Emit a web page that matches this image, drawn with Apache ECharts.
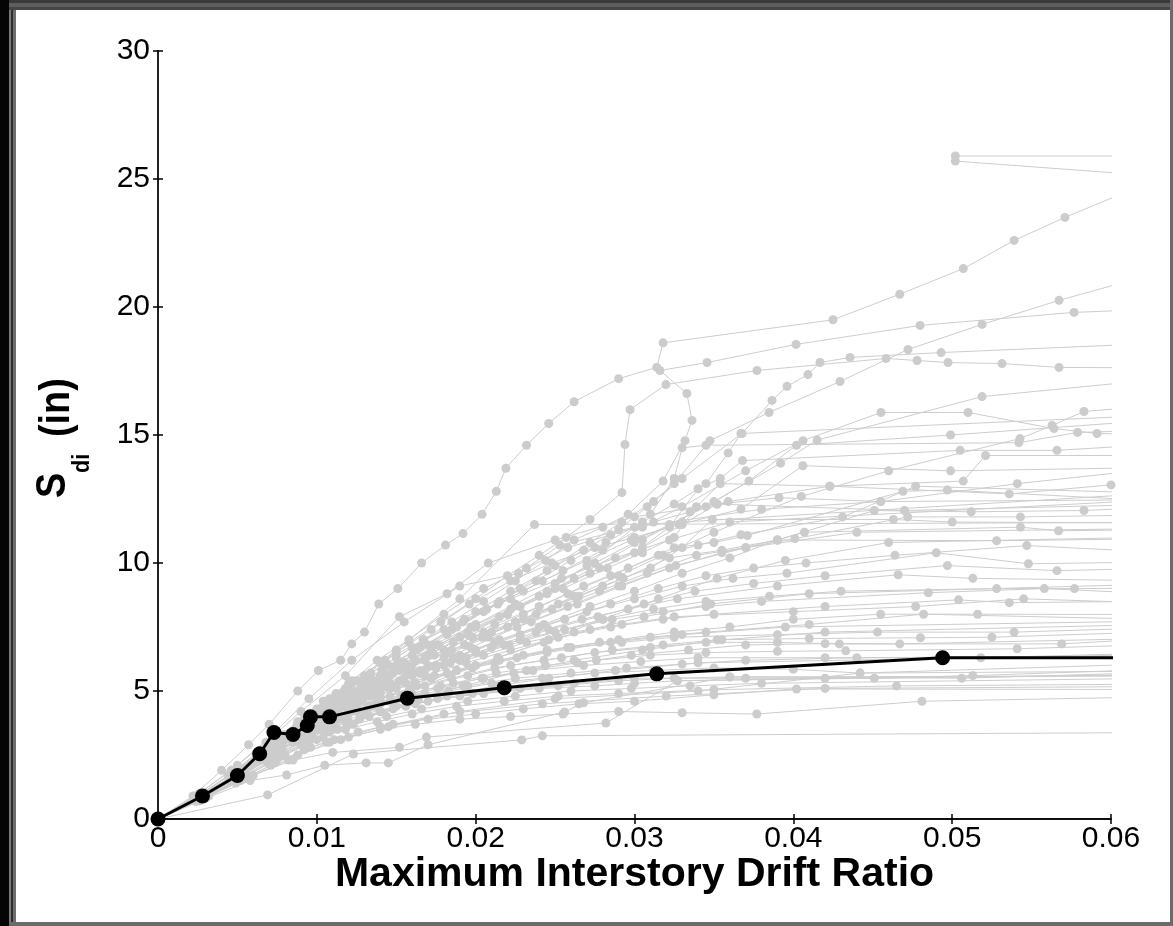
<!DOCTYPE html>
<html><head><meta charset="utf-8">
<script src="https://cdn.jsdelivr.net/npm/echarts/dist/echarts.min.js"></script>
<style>html,body{margin:0;padding:0;background:#fff}#c{width:1173px;height:926px}</style>
</head><body><div id="c"></div>
<script>
// ---- data: [drift ratio, Sdi (in)] ----
const xTickLabels = ['0','0.01','0.02','0.03','0.04','0.05','0.06'];
const yTickLabels = ['0','5','10','15','20','25','30'];

const medianCurve = [[0,0],[0.0028,0.9],[0.0050,1.7],[0.0064,2.55],[0.0073,3.38],[0.0085,3.3],[0.0094,3.65],[0.0096,3.99],[0.0108,3.99],[0.0157,4.72],[0.0218,5.13],[0.0314,5.67],[0.0494,6.3],[0.08,6.3]];

const g01 = [[0,0],[0.0022,0.9],[0.0040,1.9],[0.0057,2.9],[0.0070,3.7],[0.0088,5.0],[0.0101,5.8],[0.0115,6.2],[0.0122,6.84],[0.0130,7.3],[0.0139,8.4],[0.0151,9.0],[0.0166,10.0],[0.0181,10.7],[0.0192,11.15],[0.0204,11.9],[0.0213,12.8],[0.0219,13.7],[0.0232,14.6],[0.0246,15.45],[0.0262,16.3],[0.0290,17.2],[0.0314,17.64],[0.0318,18.6],[0.0425,19.5],[0.0467,20.5],[0.0507,21.5],[0.0539,22.6],[0.0571,23.5],[0.0606,24.4]];
const g02 = [[0,0],[0.0030,1.0],[0.0055,2.0],[0.0078,3.2],[0.0100,4.3],[0.0112,4.9],[0.0125,5.4],[0.0142,6.0],[0.0160,6.7],[0.0180,7.4],[0.0200,8.1],[0.0222,8.9],[0.0245,9.7],[0.0268,10.5],[0.0290,11.3],[0.0308,12.2],[0.0325,13.1],[0.03475,14.78],[0.03847,15.88],[0.04294,17.09],[0.04722,18.34],[0.05188,19.32],[0.05673,20.26],[0.068,22.2],[0.085,24.1],[0.0502,25.7],[0.0502,25.9],[0.08,25.9]];
const g03 = [[0,0],[0.0027,0.9],[0.0050,1.8],[0.0072,2.9],[0.0092,3.9],[0.0105,4.5],[0.0118,5.1],[0.0134,5.7],[0.0150,6.3],[0.0167,7.0],[0.0185,7.7],[0.0205,8.5],[0.0225,9.3],[0.0244,10.1],[0.0262,10.9],[0.0280,11.4],[0.0296,11.9],[0.0318,13.2],[0.03318,14.78],[0.03362,15.57],[0.0333,16.62],[0.0316,17.52],[0.03457,17.83],[0.04017,18.54],[0.04798,19.28],[0.05767,19.79],[0.075,20.2]];
const g04 = [[0,0],[0.0025,0.8],[0.0048,1.7],[0.0070,2.8],[0.0090,3.7],[0.0105,4.3],[0.0120,4.9],[0.0140,5.6],[0.0160,6.4],[0.0182,7.2],[0.0205,8.1],[0.0228,9.0],[0.0250,9.9],[0.0272,10.8],[0.0292,11.6],[0.0312,12.4],[0.0330,13.3],[0.03677,15.06],[0.03866,16.35],[0.0396,16.9],[0.04092,17.36],[0.04168,17.83],[0.04357,18.03],[0.0493,18.22],[0.075,18.9]];
const g05 = [[0,0],[0.0030,1.0],[0.0053,1.9],[0.0074,3.0],[0.0095,4.1],[0.0108,4.7],[0.0122,5.3],[0.0140,6.1],[0.0158,6.9],[0.0178,7.7],[0.0200,8.6],[0.0220,9.5],[0.0240,10.3],[0.0257,11.0],[0.0272,11.7],[0.02921,12.75],[0.0294,14.63],[0.02972,15.99],[0.03198,16.97],[0.03771,17.52],[0.04584,17.99],[0.04779,17.91],[0.04974,17.83],[0.05314,17.79],[0.05673,17.64],[0.07,17.6]];
const g06 = [[0,0],[0.0026,0.8],[0.0049,1.6],[0.0071,2.6],[0.0094,3.6],[0.0108,4.2],[0.0125,4.8],[0.0146,5.6],[0.0168,6.3],[0.0190,7.1],[0.0215,7.9],[0.0240,8.7],[0.0262,9.4],[0.0305,10.9],[0.0350,12.4],[0.0392,13.9],[0.0415,14.8],[0.05188,16.5],[0.07,17.6]];
const g07 = [[0,0],[0.0028,0.9],[0.0052,1.8],[0.0076,2.9],[0.0100,3.9],[0.0117,4.5],[0.0135,5.0],[0.0157,5.7],[0.0180,6.3],[0.0204,7.1],[0.0230,7.8],[0.0262,8.7],[0.0290,9.5],[0.0318,10.3],[0.0350,11.2],[0.0405,12.6],[0.0460,13.6],[0.05427,14.86],[0.05629,15.37],[0.0583,15.92],[0.07,16.5]];
const g08 = [[0,0],[0.0024,0.8],[0.0046,1.6],[0.0068,2.6],[0.0088,3.6],[0.0100,4.1],[0.0112,4.7],[0.0128,5.3],[0.0145,6.0],[0.0165,6.7],[0.0185,7.4],[0.0207,8.2],[0.0230,8.9],[0.0255,9.7],[0.0280,10.5],[0.0305,11.4],[0.0330,12.2],[0.0370,13.6],[0.04061,14.78],[0.04552,15.88],[0.0510,15.88],[0.05641,15.25],[0.05912,15.06],[0.07,14.9]];
const g09 = [[0,0],[0.0029,0.9],[0.0054,1.9],[0.0078,3.0],[0.0102,4.1],[0.0116,4.7],[0.0130,5.3],[0.0150,6.0],[0.0170,6.8],[0.0192,7.7],[0.0215,8.5],[0.0238,9.3],[0.0260,10.1],[0.0282,10.8],[0.0305,11.6],[0.0325,12.3],[0.0345,13.1],[0.0359,14.3],[0.0367,15.06],[0.075,16.1]];
const g10 = [[0,0],[0.0025,0.8],[0.0047,1.7],[0.0069,2.7],[0.0091,3.7],[0.0104,4.2],[0.0118,4.8],[0.0136,5.4],[0.0155,6.1],[0.0177,6.8],[0.0200,7.6],[0.0225,8.4],[0.0250,9.2],[0.0275,10.0],[0.0300,10.8],[0.0322,11.5],[0.0345,12.2],[0.0372,13.2],[0.0402,14.6],[0.0499,15.0],[0.07,15.9]];
const g11 = [[0,0],[0.0027,0.9],[0.0050,1.8],[0.0073,2.8],[0.0097,3.8],[0.0112,4.4],[0.0128,5.0],[0.0148,5.7],[0.0170,6.4],[0.0195,7.2],[0.0220,8.0],[0.0245,8.9],[0.0270,9.9],[0.0310,11.9],[0.0325,13.3],[0.0330,14.5],[0.0345,14.6],[0.0542,14.7],[0.0579,15.1],[0.07,15.3]];
const g12 = [[0,0],[0.0023,0.7],[0.0045,1.5],[0.0066,2.5],[0.0087,3.5],[0.0100,4.0],[0.0113,4.6],[0.0130,5.2],[0.0150,5.9],[0.0172,6.6],[0.0195,7.3],[0.0220,8.0],[0.0245,8.8],[0.0272,9.6],[0.0300,10.4],[0.0322,11.4],[0.0340,12.9],[0.0354,13.3],[0.0368,14.0],[0.0505,14.4],[0.0566,14.4],[0.07,14.9]];
const g13 = [[0,0],[0.0026,0.8],[0.0049,1.7],[0.0071,2.7],[0.0093,3.8],[0.0106,4.5],[0.0120,5.3],[0.0138,6.2],[0.0158,7.0],[0.0180,8.0],[0.0205,9.0],[0.0232,9.8],[0.0258,10.6],[0.0285,11.1],[0.0312,11.6],[0.0335,12.0],[0.0359,12.4],[0.0423,13.0],[0.0507,13.2],[0.0521,14.2],[0.07,14.2]];
const g14 = [[0,0],[0.0028,0.9],[0.0051,1.8],[0.0075,2.9],[0.0099,4.0],[0.0114,4.8],[0.0130,5.6],[0.0150,6.5],[0.0172,7.4],[0.0196,8.4],[0.0222,9.3],[0.0248,10.0],[0.0275,10.6],[0.0300,11.0],[0.0328,11.5],[0.0367,12.1],[0.0406,13.8],[0.0499,13.6],[0.07,13.8]];
const g15 = [[0,0],[0.0024,0.8],[0.0047,1.7],[0.0069,2.7],[0.0090,3.7],[0.0103,4.2],[0.0116,4.8],[0.0133,5.4],[0.0152,6.1],[0.0173,6.8],[0.0197,7.5],[0.0222,8.2],[0.0250,9.0],[0.0278,9.8],[0.0305,10.6],[0.0330,11.5],[0.0352,12.3],[0.0391,12.55],[0.0455,12.4],[0.0541,13.1],[0.0601,13.5],[0.07,13.7]];
const g16 = [[0,0],[0.0029,1.0],[0.0053,1.9],[0.0076,3.0],[0.0101,4.2],[0.0117,4.8],[0.0134,5.4],[0.0155,6.1],[0.0176,6.8],[0.0200,7.5],[0.0228,8.3],[0.0255,9.0],[0.0283,9.8],[0.0305,10.4],[0.0325,11.0],[0.0339,12.2],[0.0354,13.1],[0.0423,13.0],[0.0536,12.7],[0.0600,13.05],[0.07,13.3]];
const g17 = [[0,0],[0.0025,0.8],[0.0048,1.6],[0.0070,2.6],[0.0092,3.6],[0.0105,4.1],[0.0119,4.6],[0.0137,5.2],[0.0157,5.9],[0.0180,6.6],[0.0205,7.3],[0.0230,8.0],[0.0258,8.8],[0.0285,9.5],[0.0315,10.3],[0.0340,10.7],[0.0367,11.1],[0.0431,11.8],[0.0477,13.0],[0.07,12.6]];
const g18 = [[0,0],[0.0027,0.9],[0.0050,1.8],[0.0072,2.8],[0.0095,3.8],[0.0108,4.3],[0.0123,4.9],[0.0142,5.5],[0.0162,6.2],[0.0186,6.9],[0.0212,7.6],[0.0240,8.3],[0.0268,9.1],[0.0296,9.8],[0.0325,10.6],[0.0350,10.8],[0.0371,11.07],[0.0469,12.8],[0.0497,12.85],[0.07,12.2]];
const g19 = [[0,0],[0.0026,0.8],[0.0049,1.7],[0.0071,2.7],[0.0093,3.7],[0.0107,4.2],[0.0121,4.8],[0.0140,5.4],[0.0160,6.0],[0.0185,6.6],[0.0210,7.3],[0.0238,8.0],[0.0265,8.7],[0.0293,9.4],[0.0322,10.2],[0.0355,10.5],[0.0390,10.9],[0.0451,12.05],[0.0512,12.0],[0.0583,12.05],[0.0601,12.1],[0.07,12.15]];
const g20 = [[0,0],[0.0028,0.9],[0.0052,1.8],[0.0075,2.9],[0.0098,3.9],[0.0112,4.4],[0.0127,5.0],[0.0146,5.6],[0.0168,6.2],[0.0193,6.8],[0.0220,7.5],[0.0248,8.2],[0.0278,8.9],[0.0308,9.6],[0.0339,10.3],[0.0370,10.6],[0.0401,10.95],[0.0472,11.8],[0.0543,11.8],[0.07,11.95]];
const g21 = [[0,0],[0.0024,0.8],[0.0046,1.6],[0.0068,2.6],[0.0089,3.5],[0.0101,4.0],[0.0115,4.6],[0.0132,5.2],[0.0152,5.8],[0.0174,6.4],[0.0198,7.1],[0.0225,7.7],[0.0252,8.4],[0.0280,9.1],[0.0310,9.8],[0.0330,10.6],[0.0349,11.7],[0.0463,11.7],[0.0500,11.6],[0.07,11.55]];
const g22 = [[0,0],[0.0027,0.9],[0.0051,1.8],[0.0074,2.8],[0.0096,3.7],[0.0110,4.2],[0.0125,4.7],[0.0144,5.2],[0.0165,5.8],[0.0190,6.4],[0.0215,7.0],[0.0243,7.6],[0.0272,8.3],[0.0300,8.9],[0.0330,9.6],[0.0360,10.2],[0.0390,10.9],[0.0407,11.2],[0.0543,11.4],[0.0567,11.26],[0.07,11.35]];
const g23 = [[0,0],[0.0025,0.8],[0.0047,1.7],[0.0069,2.7],[0.0091,3.7],[0.0104,4.2],[0.0118,4.7],[0.0137,5.3],[0.0158,5.9],[0.0182,6.5],[0.0208,7.1],[0.0235,7.7],[0.0264,8.4],[0.0292,9.1],[0.0322,9.8],[0.0355,10.4],[0.0390,10.9],[0.0528,10.87],[0.07,11.0]];
const g24 = [[0,0],[0.0029,1.0],[0.0054,1.9],[0.0078,2.9],[0.0102,3.9],[0.0117,4.4],[0.0133,4.9],[0.0153,5.4],[0.0175,6.0],[0.0200,6.6],[0.0228,7.2],[0.0256,7.8],[0.0285,8.4],[0.0315,9.0],[0.0345,9.5],[0.0375,9.8],[0.0408,10.0],[0.0464,10.3],[0.0547,10.68],[0.07,10.2]];
const g25 = [[0,0],[0.0026,0.8],[0.0049,1.7],[0.0071,2.7],[0.0093,3.6],[0.0106,4.1],[0.0121,4.6],[0.0140,5.1],[0.0161,5.7],[0.0186,6.3],[0.0212,6.9],[0.0240,7.5],[0.0270,8.1],[0.0300,8.6],[0.0330,9.1],[0.0362,9.4],[0.0396,9.6],[0.0490,10.4],[0.0548,9.97],[0.07,10.1]];
const g26 = [[0,0],[0.0027,0.9],[0.0050,1.8],[0.0073,2.8],[0.0095,3.7],[0.0109,4.2],[0.0124,4.7],[0.0144,5.2],[0.0165,5.7],[0.0190,6.2],[0.0218,6.8],[0.0246,7.4],[0.0277,7.9],[0.0306,8.4],[0.0338,8.9],[0.0375,9.2],[0.0420,9.5],[0.0497,9.9],[0.0566,9.7],[0.07,9.9]];
const g27 = [[0,0],[0.0025,0.8],[0.0048,1.6],[0.0070,2.6],[0.0092,3.5],[0.0105,4.0],[0.0120,4.5],[0.0139,5.0],[0.0160,5.6],[0.0184,6.1],[0.0210,6.7],[0.0238,7.3],[0.0267,7.8],[0.0296,8.2],[0.0327,8.6],[0.0390,9.1],[0.0466,9.54],[0.0513,9.4],[0.07,9.25]];
const g28 = [[0,0],[0.0028,0.9],[0.0052,1.8],[0.0075,2.8],[0.0097,3.8],[0.0111,4.3],[0.0126,4.8],[0.0146,5.3],[0.0168,5.8],[0.0194,6.3],[0.0221,6.8],[0.0250,7.3],[0.0280,7.8],[0.0312,8.2],[0.0345,8.5],[0.0385,8.7],[0.0430,8.9],[0.0528,9.0],[0.0577,9.0],[0.07,9.05]];
const g29 = [[0,0],[0.0024,0.7],[0.0046,1.5],[0.0067,2.5],[0.0088,3.4],[0.0100,3.9],[0.0114,4.4],[0.0132,4.9],[0.0152,5.4],[0.0175,5.9],[0.0200,6.5],[0.0228,7.0],[0.0256,7.4],[0.0286,7.8],[0.0318,8.1],[0.0345,8.3],[0.0380,8.5],[0.0485,8.84],[0.0558,9.0],[0.07,8.6]];
const g30 = [[0,0],[0.0027,0.9],[0.0051,1.8],[0.0074,2.7],[0.0096,3.6],[0.0110,4.1],[0.0126,4.6],[0.0146,5.1],[0.0168,5.6],[0.0194,6.1],[0.0222,6.6],[0.0252,7.1],[0.0285,7.5],[0.0318,7.8],[0.0350,8.0],[0.0420,8.3],[0.0504,8.56],[0.0536,8.45],[0.07,8.55]];
const g31 = [[0,0],[0.0025,0.8],[0.0047,1.6],[0.0069,2.6],[0.0090,3.5],[0.0103,4.0],[0.0117,4.5],[0.0135,5.0],[0.0155,5.5],[0.0180,6.0],[0.0205,6.4],[0.0232,6.9],[0.0262,7.3],[0.0292,7.6],[0.0325,7.9],[0.0400,8.1],[0.0477,8.3],[0.0545,8.6],[0.07,8.3]];
const g32 = [[0,0],[0.0028,0.9],[0.0053,1.8],[0.0076,2.8],[0.0099,3.7],[0.0113,4.2],[0.0129,4.6],[0.0150,5.1],[0.0172,5.5],[0.0198,5.9],[0.0226,6.3],[0.0258,6.7],[0.0290,7.0],[0.0325,7.3],[0.0360,7.5],[0.0400,7.8],[0.0455,8.0],[0.0516,8.0],[0.07,7.98]];
const g33 = [[0,0],[0.0026,0.8],[0.0049,1.7],[0.0071,2.6],[0.0093,3.5],[0.0106,4.0],[0.0121,4.4],[0.0140,4.9],[0.0162,5.3],[0.0188,5.8],[0.0215,6.2],[0.0245,6.6],[0.0278,6.9],[0.0310,7.1],[0.0345,7.3],[0.0410,7.6],[0.0482,8.0],[0.07,7.7]];
const g34 = [[0,0],[0.0024,0.8],[0.0045,1.6],[0.0066,2.5],[0.0086,3.4],[0.0098,3.9],[0.0112,4.3],[0.0130,4.8],[0.0150,5.2],[0.0174,5.6],[0.0200,6.0],[0.0230,6.4],[0.0260,6.7],[0.0292,6.9],[0.0325,7.1],[0.0390,7.2],[0.0453,7.3],[0.0539,7.3],[0.07,7.6]];
const g35 = [[0,0],[0.0027,0.9],[0.0051,1.7],[0.0074,2.6],[0.0096,3.5],[0.0110,4.0],[0.0125,4.4],[0.0146,4.8],[0.0168,5.2],[0.0195,5.6],[0.0222,6.0],[0.0254,6.3],[0.0286,6.6],[0.0318,6.8],[0.0352,7.0],[0.0410,7.05],[0.0480,7.08],[0.0525,7.1],[0.07,7.45]];
const g36 = [[0,0],[0.0025,0.8],[0.0048,1.6],[0.0070,2.5],[0.0091,3.4],[0.0104,3.9],[0.0119,4.3],[0.0138,4.7],[0.0159,5.1],[0.0185,5.5],[0.0212,5.9],[0.0243,6.2],[0.0275,6.5],[0.0310,6.7],[0.0345,6.9],[0.0390,6.9],[0.0429,6.84],[0.0569,6.84],[0.07,7.3]];
const g37 = [[0,0],[0.0029,0.9],[0.0054,1.8],[0.0078,2.7],[0.0101,3.5],[0.0116,3.9],[0.0132,4.3],[0.0153,4.7],[0.0176,5.1],[0.0204,5.5],[0.0232,5.8],[0.0264,6.1],[0.0298,6.4],[0.0334,6.6],[0.0370,6.8],[0.0420,6.85],[0.0467,6.84],[0.07,7.15]];
const g38 = [[0,0],[0.0026,0.8],[0.0049,1.6],[0.0071,2.5],[0.0092,3.3],[0.0105,3.7],[0.0120,4.1],[0.0140,4.5],[0.0160,4.9],[0.0186,5.3],[0.0213,5.7],[0.0244,6.0],[0.0276,6.2],[0.0310,6.4],[0.0345,6.5],[0.0390,6.55],[0.0433,6.57],[0.0541,6.65],[0.07,6.95]];
const g39 = [[0,0],[0.0024,0.7],[0.0046,1.5],[0.0067,2.4],[0.0087,3.2],[0.0100,3.6],[0.0114,4.0],[0.0133,4.4],[0.0153,4.8],[0.0178,5.2],[0.0205,5.5],[0.0236,5.8],[0.0268,6.0],[0.0304,6.15],[0.0340,6.3],[0.0420,6.3],[0.0518,6.3],[0.07,6.6]];
const g40 = [[0,0],[0.0027,0.9],[0.0051,1.7],[0.0074,2.6],[0.0096,3.4],[0.0110,3.8],[0.0125,4.2],[0.0146,4.6],[0.0168,4.9],[0.0195,5.2],[0.0225,5.5],[0.0260,5.7],[0.0295,5.9],[0.0330,6.05],[0.0370,6.2],[0.0440,6.3],[0.07,6.4]];
const g41 = [[0,0],[0.0025,0.8],[0.0047,1.6],[0.0069,2.4],[0.0090,3.2],[0.0103,3.6],[0.0117,4.0],[0.0136,4.4],[0.0157,4.7],[0.0183,5.0],[0.0210,5.3],[0.0242,5.5],[0.0275,5.7],[0.0312,5.8],[0.0350,5.9],[0.0400,5.85],[0.0442,5.7],[0.07,6.2]];
const g42 = [[0,0],[0.0028,0.9],[0.0052,1.7],[0.0075,2.5],[0.0097,3.2],[0.0111,3.6],[0.0127,3.9],[0.0148,4.3],[0.0170,4.6],[0.0198,4.9],[0.0228,5.1],[0.0262,5.3],[0.0300,5.5],[0.0370,5.5],[0.0451,5.5],[0.0513,5.6],[0.07,6.0]];
const g43 = [[0,0],[0.0026,0.8],[0.0049,1.6],[0.0071,2.4],[0.0092,3.1],[0.0106,3.5],[0.0120,3.8],[0.0140,4.2],[0.0162,4.5],[0.0190,4.8],[0.0218,5.0],[0.0252,5.2],[0.0290,5.4],[0.0325,5.5],[0.0360,5.55],[0.0506,5.5],[0.07,5.85]];
const g44 = [[0,0],[0.0024,0.7],[0.0045,1.5],[0.0065,2.3],[0.0085,3.0],[0.0097,3.4],[0.0111,3.7],[0.0130,4.1],[0.0150,4.4],[0.0176,4.7],[0.0205,4.9],[0.0240,5.1],[0.0275,5.2],[0.0300,5.3],[0.0327,5.4],[0.0420,5.5],[0.07,5.65]];
const g45 = [[0,0],[0.0027,0.8],[0.0050,1.6],[0.0072,2.4],[0.0094,3.0],[0.0108,3.4],[0.0123,3.7],[0.0144,4.0],[0.0166,4.3],[0.0195,4.6],[0.0225,4.8],[0.0260,5.0],[0.0298,5.1],[0.0335,5.2],[0.0380,5.3],[0.07,5.55]];
const g46 = [[0,0],[0.0025,0.8],[0.0048,1.5],[0.0069,2.2],[0.0090,2.9],[0.0104,3.2],[0.0118,3.5],[0.0138,3.8],[0.0160,4.1],[0.0188,4.4],[0.0218,4.6],[0.0252,4.8],[0.0290,4.9],[0.0350,5.05],[0.0465,5.2],[0.07,5.3]];
const g47 = [[0,0],[0.0028,0.8],[0.0052,1.5],[0.0074,2.2],[0.0096,2.8],[0.0111,3.1],[0.0126,3.4],[0.0148,3.7],[0.0170,3.9],[0.0200,4.1],[0.0230,4.3],[0.0265,4.5],[0.0300,4.6],[0.0350,4.85],[0.0402,5.08],[0.07,5.05]];
const g48 = [[0,0],[0.0026,0.7],[0.0049,1.4],[0.0071,2.1],[0.0092,2.7],[0.0106,3.0],[0.0120,3.2],[0.0140,3.5],[0.0162,3.7],[0.0190,3.9],[0.0222,4.0],[0.0255,4.1],[0.0290,4.2],[0.0330,4.15],[0.0377,4.1],[0.0481,4.6],[0.07,4.85]];
const g49 = [[0,0],[0.0069,0.94],[0.0123,2.54],[0.0229,3.09],[0.0242,3.25],[0.07,3.4]];
const g50 = [[0,0],[0.0030,0.8],[0.0058,1.5],[0.0081,1.72],[0.0105,2.1],[0.0131,2.19],[0.0145,2.19],[0.0170,2.9],[0.0256,4.18],[0.0268,4.54],[0.0360,5.55],[0.07,5.6]];
const g51 = [[0,0],[0.0030,0.9],[0.0055,1.6],[0.0085,2.3],[0.0110,2.6],[0.0152,2.8],[0.0169,3.2],[0.0282,3.75],[0.0327,5.4],[0.07,5.7]];
const g52 = [[0,0],[0.0030,1.0],[0.0058,2.1],[0.0085,3.4],[0.0115,4.9],[0.0150,6.6],[0.0190,8.6],[0.0237,11.5],[0.07,11.6]];
const g53 = [[0,0],[0.0026,1.0],[0.0050,2.1],[0.0072,3.3],[0.0095,4.7],[0.0122,6.2],[0.0155,7.7],[0.0190,9.1],[0.0227,9.6],[0.0253,10.7],[0.0300,11.4],[0.0380,12.1],[0.0455,12.4],[0.07,12.5]];
const g54 = [[0,0],[0.0024,0.9],[0.0046,1.9],[0.0068,3.0],[0.0090,4.2],[0.0118,5.6],[0.0152,7.9],[0.0182,8.8],[0.0208,10.0],[0.0250,10.9],[0.0300,11.8],[0.0352,12.3],[0.0470,12.05],[0.07,12.4]];
const g55 = [[0,0],[0.0032,0.9],[0.0060,1.7],[0.0088,2.5],[0.0115,3.1],[0.0145,3.6],[0.0190,4.2],[0.0250,4.7],[0.0340,5.0],[0.0442,5.7],[0.07,5.8]];
const g56 = [[0,0],[0.0029,0.8],[0.0056,1.6],[0.0082,2.3],[0.0108,3.0],[0.0140,3.6],[0.0180,4.1],[0.0242,4.5],[0.0320,4.8],[0.0420,5.1],[0.07,5.2]];
const g57 = [[0,0],[0.0025,0.8],[0.0047,1.6],[0.0068,2.5],[0.0085,3.1],[0.0102,3.6],[0.0121,4.2],[0.0140,4.7],[0.0163,5.2],[0.0188,5.8],[0.0214,6.3],[0.0243,6.9],[0.0272,7.4],[0.0306,7.9],[0.0348,8.4],[0.0410,8.8],[0.07,9.3]];
const g58 = [[0,0],[0.0027,0.9],[0.0050,1.8],[0.0071,2.7],[0.0089,3.4],[0.0106,4.0],[0.0124,4.6],[0.0146,5.3],[0.0170,6.0],[0.0197,6.7],[0.0226,7.5],[0.0258,8.3],[0.0290,9.1],[0.0326,9.9],[0.0370,10.6],[0.0440,11.2],[0.07,11.4]];
const g59 = [[0,0],[0.0023,0.8],[0.0044,1.7],[0.0063,2.6],[0.0080,3.3],[0.0097,3.9],[0.0114,4.4],[0.0133,4.8],[0.0156,5.3],[0.0182,5.7],[0.0212,6.1],[0.0245,6.5],[0.0285,6.9],[0.0330,7.2],[0.0395,7.5],[0.07,7.8]];
const g60 = [[0,0],[0.0029,0.9],[0.0054,1.8],[0.0077,2.7],[0.0096,3.3],[0.0114,3.9],[0.0134,4.4],[0.0158,5.0],[0.0184,5.6],[0.0214,6.3],[0.0246,7.0],[0.0280,7.8],[0.0315,8.6],[0.0352,9.4],[0.0395,10.1],[0.0460,10.8],[0.07,11.1]];
const g61 = [[0,0],[0.0026,0.9],[0.0049,1.9],[0.0070,2.9],[0.0088,3.8],[0.0104,4.6],[0.0122,5.4],[0.0143,6.2],[0.0167,7.0],[0.0193,7.8],[0.0222,8.6],[0.0254,9.4],[0.0288,10.2],[0.0322,10.9],[0.0360,11.6],[0.07,12.7]];
const g62 = [[0,0],[0.0028,0.8],[0.0053,1.6],[0.0076,2.4],[0.0095,3.0],[0.0113,3.5],[0.0133,4.0],[0.0156,4.4],[0.0182,4.8],[0.0212,5.2],[0.0246,5.5],[0.0288,5.8],[0.0340,6.1],[0.07,6.5]];
const g63 = [[0,0],[0.0025,0.9],[0.0048,1.8],[0.0069,2.8],[0.0087,3.6],[0.0103,4.3],[0.0121,5.0],[0.0141,5.8],[0.0163,6.6],[0.0188,7.5],[0.0214,8.4],[0.0242,9.3],[0.0270,10.1],[0.0298,10.9],[0.0330,11.6],[0.07,13.0]];
const g64 = [[0,0],[0.0030,0.9],[0.0056,1.7],[0.0080,2.5],[0.0100,3.1],[0.0119,3.7],[0.0140,4.2],[0.0164,4.7],[0.0192,5.2],[0.0224,5.7],[0.0262,6.2],[0.0305,6.6],[0.0355,7.0],[0.0420,7.3],[0.07,7.7]];

const grayCurves = [g01,g02,g03,g04,g05,g06,g07,g08,g09,g10,g11,g12,g13,g14,g15,g16,g17,g18,g19,g20,g21,g22,g23,g24,g25,g26,g27,g28,g29,g30,g31,g32,g33,g34,g35,g36,g37,g38,g39,g40,g41,g42,g43,g44,g45,g46,g47,g48,g49,g50,g51,g52,g53,g54,g55,g56,g57,g58,g59,g60,g61,g62,g63,g64];

// ---- chart ----
const chart = echarts.init(document.getElementById('c'), null, {renderer:'canvas'});
const FONT = '"Liberation Sans", Arial, Helvetica, sans-serif';

const series = grayCurves.map(d => ({
  type:'line', data:d, symbol:'circle', symbolSize:9, silent:true, z:2,
  lineStyle:{color:'#cdcdcd', width:1}, itemStyle:{color:'#cccccc'},
  clip:true, animation:false
}));
series.push({
  type:'line', data:medianCurve, symbol:'circle', symbolSize:15, silent:true, z:5,
  lineStyle:{color:'#000', width:3}, itemStyle:{color:'#000'}, clip:true, animation:false
});

const axisCommon = {
  type:'value', splitLine:{show:false},
  axisLine:{show:true, lineStyle:{color:'#000', width:1.5}},
  axisTick:{show:true, inside:true, length:5, lineStyle:{color:'#000', width:1.5}}
};

chart.setOption({
  animation:false,
  backgroundColor:'#fff',
  grid:{left:158, right:62, top:51, bottom:107, containLabel:false},
  xAxis:[
    Object.assign({}, axisCommon, {
      min:0, max:0.06, interval:0.01, position:'bottom',
      axisLabel:{fontSize:30, color:'#000', fontFamily:FONT, margin:5,
        formatter:v => xTickLabels[Math.round(v/0.01)]},
      name:'Maximum Interstory Drift Ratio', nameLocation:'middle', nameGap:35,
      nameMoveOverlap:false,
      nameTextStyle:{fontSize:41, fontWeight:'bold', color:'#000', fontFamily:FONT}
    }),
    Object.assign({}, axisCommon, {
      min:0, max:0.06, interval:0.01, position:'top', axisLabel:{show:false}
    })
  ],
  yAxis:[
    Object.assign({}, axisCommon, {
      min:0, max:30, interval:5, position:'left',
      axisLabel:{fontSize:30, color:'#000', fontFamily:FONT, margin:8,
        formatter:v => yTickLabels[Math.round(v/5)]}
    }),
    Object.assign({}, axisCommon, {
      min:0, max:30, interval:5, position:'right', axisLabel:{show:false},
      axisLine:{show:true, lineStyle:{color:'#222', width:2}}
    })
  ],
  graphic:[
    // window-like frame
    {type:'rect', shape:{x:0,y:0,width:9,height:926}, style:{fill:'#050505'}, z:100, silent:true},
    {type:'rect', shape:{x:9,y:0,width:2,height:926}, style:{fill:'#7a7a7a'}, z:100, silent:true},
    {type:'rect', shape:{x:11,y:0,width:2,height:926}, style:{fill:'#2e2e2e'}, z:100, silent:true},
    {type:'rect', shape:{x:13,y:0,width:3,height:926}, style:{fill:'#6e6e6e'}, z:100, silent:true},
    {type:'rect', shape:{x:9,y:0,width:1164,height:3}, style:{fill:'#3a3a3a'}, z:100, silent:true},
    {type:'rect', shape:{x:9,y:3,width:1164,height:4}, style:{fill:'#5e5e5e'}, z:100, silent:true},
    {type:'rect', shape:{x:9,y:7,width:1164,height:3}, style:{fill:'#454545'}, z:100, silent:true},
    {type:'rect', shape:{x:9,y:922,width:1164,height:4}, style:{fill:'#6b6b6b'}, z:100, silent:true},
    {type:'rect', shape:{x:1170,y:0,width:3,height:926}, style:{fill:'#6b6b6b'}, z:100, silent:true},
    // y-axis title: S_di (in), rotated
    {type:'text', x:75, y:498, rotation:Math.PI/2, scaleX:0.88, z:50, silent:true,
      style:{text:'S', font:'bold 43px '+FONT, fill:'#000', textAlign:'left', textVerticalAlign:'bottom'}},
    {type:'text', x:94, y:473, rotation:Math.PI/2, scaleX:0.9, z:50, silent:true,
      style:{text:'di', font:'bold 24px '+FONT, fill:'#000', textAlign:'left', textVerticalAlign:'bottom'}},
    {type:'text', x:79, y:437, rotation:Math.PI/2, scaleX:0.88, z:50, silent:true,
      style:{text:'(in)', font:'bold 43px '+FONT, fill:'#000', textAlign:'left', textVerticalAlign:'bottom'}}
  ],
  series:series
});
</script></body></html>
